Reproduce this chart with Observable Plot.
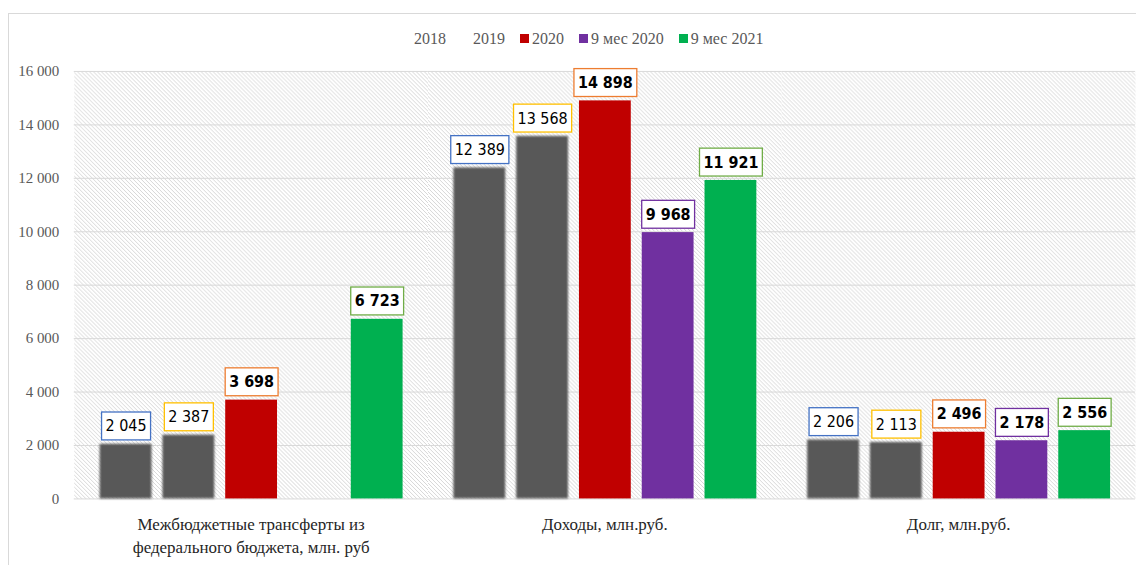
<!DOCTYPE html>
<html>
<head>
<meta charset="utf-8">
<script src="https://cdn.jsdelivr.net/npm/d3@7"></script>
<script src="https://cdn.jsdelivr.net/npm/@observablehq/plot@0.6"></script>
<style>
  html, body { margin: 0; padding: 0; background: white; overflow: hidden; width: 1136px; height: 565px; }
  #border { position: absolute; left: 8px; top: 13px; width: 1300px; height: 700px; border: 1px solid #d9d9d9; pointer-events: none; z-index: 2; }
  #legend { height: 55px; box-sizing: border-box; padding-top: 22px; padding-left: 402px; display: flex; align-items: center; font-family: "Liberation Serif", serif; font-size: 16px; color: #595959; line-height: 20px; }
  #legend .item { display: flex; align-items: center; margin-right: 15px; }
  #legend .sw { width: 9px; height: 9px; margin-right: 3px; }
  #chart svg { display: block; }
</style>
</head>
<body>
<div id="border"></div>
<div id="legend"></div>
<div id="chart"></div>
<script>
// ---- data ----
const groups = ["Межбюджетные трансферты из\nфедерального бюджета, млн. руб", "Доходы, млн.руб.", "Долг, млн.руб."];
const series = ["2018", "2019", "2020", "9 мес 2020", "9 мес 2021"];
const values2018 = [2045, 12389, 2206];
const values2019 = [2387, 13568, 2113];
const values2020 = [3698, 14898, 2496];
const values9m2020 = [null, 9968, 2178];
const values9m2021 = [6723, 11921, 2556];
const barColors = ["#595959", "#595959", "#C00000", "#7030A0", "#00B050"];
const legendSwatches = ["transparent", "transparent", "#C00000", "#7030A0", "#00B050"];
const labelBorders = ["#4472C4", "#FFC000", "#ED7D31", "#7030A0", "#70AD47"];
const labelBold = [false, false, true, true, true];
const yTicks = [0, 2000, 4000, 6000, 8000, 10000, 12000, 14000, 16000];

const seriesValues = [values2018, values2019, values2020, values9m2020, values9m2021];
const data = [];
series.forEach((s, si) => {
  groups.forEach((g, gi) => {
    const v = seriesValues[si][gi];
    if (v != null) data.push({group: g, series: s, value: v, color: barColors[si], si});
  });
});

const locale = d3.formatLocale({decimal: ",", thousands: " ", grouping: [3], currency: ["", ""]});
const fmt = locale.format(",d");

// ---- legend ----
const legend = document.getElementById("legend");
series.forEach((s, i) => {
  const it = document.createElement("div");
  it.className = "item";
  const sw = document.createElement("div");
  sw.className = "sw";
  sw.style.background = legendSwatches[i];
  const t = document.createElement("span");
  t.textContent = s;
  it.appendChild(sw); it.appendChild(t);
  legend.appendChild(it);
});

// ---- chart ----
const labelFont = "'Liberation Sans Narrow', 'DejaVu Sans Condensed', 'Arial Narrow', sans-serif";
const labelMarks = series.map((s, si) =>
  Plot.text(data.filter(d => d.si === si), {
    fx: "group", x: "series", y: "value",
    text: d => fmt(d.value),
    dy: -18,
    fontSize: 16,
    fontFamily: labelFont,
    fontWeight: labelBold[si] ? "bold" : "normal",
    fill: "#000",
    ariaDescription: "lbl" + si
  })
);

const plot = Plot.plot({
  width: 1140,
  height: 510,
  marginTop: 16,
  marginBottom: 65,
  marginLeft: 73,
  marginRight: 0,
  style: {background: "transparent", overflow: "visible"},
  fx: {domain: groups, padding: 0, axis: null},
  x: {domain: series, paddingInner: 0.18, paddingOuter: 0.4, axis: null},
  y: {domain: [0, 16000], axis: null},
  color: {type: "identity"},
  marks: [
    Plot.frame({fill: "url(#hatch)", stroke: null}),
    Plot.gridY({ticks: yTicks, stroke: "#d9d9d9", strokeOpacity: 1, strokeWidth: 1}),
    Plot.axisY({ticks: yTicks, tickSize: 0, tickPadding: 15, tickFormat: fmt, fontSize: 15, label: null,
      fontFamily: "'Liberation Serif', serif", color: "#595959"}),
    Plot.barY(data, {fx: "group", x: "series", y: "value", fill: "color"}),
    ...labelMarks,
    Plot.text(groups, {fx: d => d, text: d => d, frameAnchor: "bottom", lineAnchor: "top", dy: 16,
      fontSize: 17, lineHeight: 1.3, fontFamily: "'Liberation Serif', serif", fill: "#262626"})
  ]
});
document.getElementById("chart").appendChild(plot);

// defs: hatch pattern + soft filter
const ns = "http://www.w3.org/2000/svg";
const defs = document.createElementNS(ns, "defs");
defs.innerHTML = `
  <pattern id="hatch" patternUnits="userSpaceOnUse" width="4" height="4">
    <rect width="4" height="4" fill="#ffffff"/>
    <path d="M-1,-1 L5,5 M-1,3 L1,5 M3,-1 L5,1" stroke="#d2d2d2" stroke-width="0.9"/>
  </pattern>
  <filter id="soft" x="-10%" y="-10%" width="120%" height="120%">
    <feGaussianBlur stdDeviation="0.9"/>
  </filter>`;
plot.insertBefore(defs, plot.firstChild);

plot.querySelectorAll("rect").forEach(r => {
  const f = (r.getAttribute("fill") || "").toLowerCase();
  if (f === "#595959" || f === "rgb(89, 89, 89)") r.setAttribute("filter", "url(#soft)");
});

// label boxes
series.forEach((s, si) => {
  plot.querySelectorAll(`[aria-description="lbl${si}"] text`).forEach(t => {
    const bb = t.getBBox();
    const r = document.createElementNS(ns, "rect");
    const w = bb.width + 8, h = 28;
    r.setAttribute("x", bb.x + bb.width / 2 - w / 2);
    r.setAttribute("y", bb.y + bb.height / 2 - h / 2);
    r.setAttribute("width", w);
    r.setAttribute("height", h);
    r.setAttribute("fill", "white");
    r.setAttribute("stroke", labelBorders[si]);
    r.setAttribute("stroke-width", 1.3);
    if (t.getAttribute("transform")) r.setAttribute("transform", t.getAttribute("transform"));
    t.parentNode.insertBefore(r, t);
  });
});
</script>
</body>
</html>
